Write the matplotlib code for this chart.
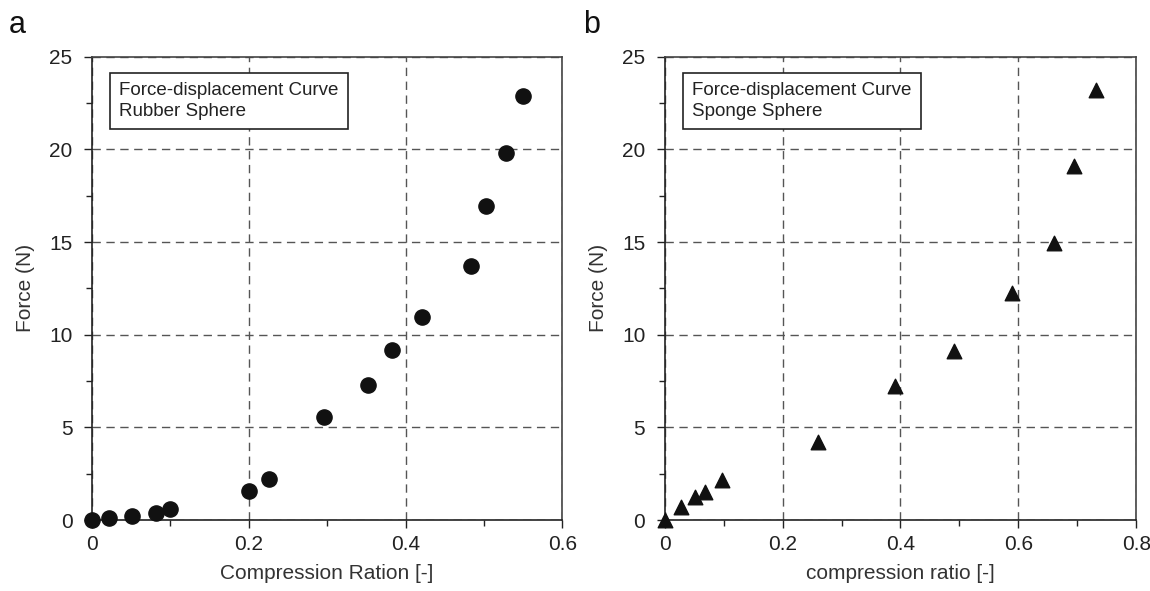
import numpy as np
import matplotlib.pyplot as plt
from matplotlib.ticker import MultipleLocator

plt.rcParams['font.family'] = ['Liberation Sans', 'DejaVu Sans']

# rubber sphere
rubber_x = [0.0, 0.022, 0.051, 0.082, 0.10, 0.20, 0.226, 0.296, 0.352, 0.383, 0.421, 0.484, 0.502, 0.528, 0.550]
rubber_f = [0.0, 0.12, 0.2, 0.36, 0.6, 1.58, 2.2, 5.54, 7.31, 9.19, 10.97, 13.72, 16.95, 19.78, 22.9]
# sponge sphere
sponge_x = [0.0, 0.027, 0.052, 0.069, 0.097, 0.26, 0.39, 0.491, 0.589, 0.661, 0.695, 0.731]
sponge_f = [0.0, 0.7, 1.27, 1.5, 2.14, 4.2, 7.23, 9.13, 12.24, 14.95, 19.1, 23.2]

fig = plt.figure(figsize=(11.5, 5.91), dpi=100)
ax1 = fig.add_axes([0.080, 0.120, 0.409, 0.784])
ax2 = fig.add_axes([0.578, 0.120, 0.410, 0.784])

def style(ax, xmax, xlabel, legend_txt):
    ax.set_xlim(0, xmax)
    ax.set_ylim(0, 25)
    ax.xaxis.set_major_locator(MultipleLocator(0.2))
    ax.xaxis.set_minor_locator(MultipleLocator(0.1))
    ax.yaxis.set_major_locator(MultipleLocator(5))
    ax.yaxis.set_minor_locator(MultipleLocator(2.5))
    ax.set_xticklabels([('%g' % t) for t in ax.get_xticks()])
    ax.tick_params(which='both', direction='out', top=False, right=False,
                   labelsize=15, colors='#222222')
    ax.tick_params(which='major', length=6, width=1, pad=5)
    ax.tick_params(axis='y', which='major', pad=8)
    ax.tick_params(which='minor', length=4, width=1)
    ax.grid(True, which='major', linestyle=(0, (6, 4)), color='#555555', linewidth=1)
    for s in ['left', 'bottom']:
        ax.spines[s].set_color('#222222')
        ax.spines[s].set_linewidth(1.2)
    for s in ['top', 'right']:
        ax.spines[s].set_color('#444444')
        ax.spines[s].set_linewidth(1.2)
    ax.set_xlabel(xlabel, fontsize=15, color='#333333', labelpad=7)
    ax.set_ylabel('Force (N)', fontsize=15, color='#333333', labelpad=10)
    ax.text(0.058, 0.945, legend_txt, transform=ax.transAxes, fontsize=13.5,
            va='top', ha='left', linespacing=1.3, color='#222222',
            bbox=dict(boxstyle='square,pad=0.5', fc='white', ec='#222222', lw=1.2))

ax1.scatter(rubber_x, rubber_f, s=120, c='#111111', zorder=3, clip_on=False)
style(ax1, 0.6, 'Compression Ration [-]', 'Force-displacement Curve\nRubber Sphere')

ax2.scatter(sponge_x, sponge_f, s=110, marker='^', c='#111111', zorder=3, clip_on=False)
style(ax2, 0.8, 'compression ratio [-]', 'Force-displacement Curve\nSponge Sphere')

fig.text(0.008, 0.945, 'a', fontsize=22, color='#111111')
fig.text(0.507, 0.945, 'b', fontsize=22, color='#111111')

fig.savefig('out.png', dpi=100)
